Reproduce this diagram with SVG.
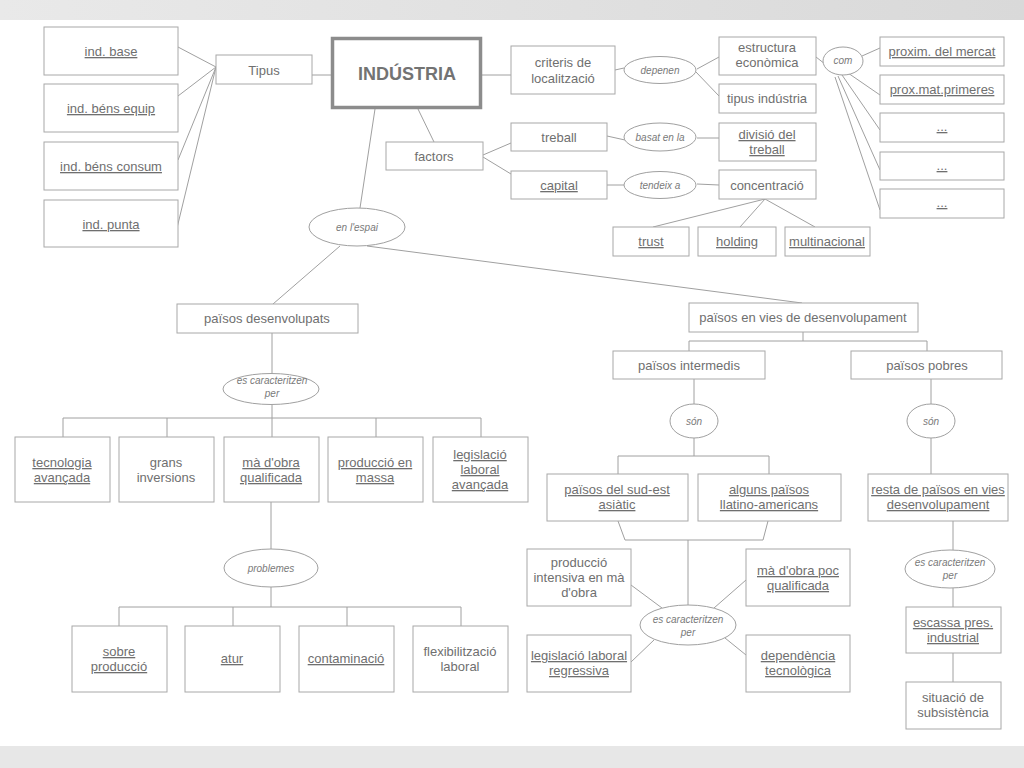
<svg xmlns="http://www.w3.org/2000/svg" width="1024" height="768" viewBox="0 0 1024 768">
<defs>
<linearGradient id="band" x1="0" y1="0" x2="1" y2="0">
<stop offset="0" stop-color="#e9e9e9"/>
<stop offset="1" stop-color="#d9d9d9"/>
</linearGradient>
<style>
.b{fill:#fff;stroke:#a8a8a8;stroke-width:1}
.e{fill:#fff;stroke:#a0a0a0;stroke-width:1}
.t{font-family:"Liberation Sans",Arial,sans-serif;font-size:13px;fill:#6f6f6f;text-anchor:middle}
.u{text-decoration:underline}
.i{font-family:"Liberation Sans",Arial,sans-serif;font-size:10px;font-style:italic;fill:#7a7a7a;text-anchor:middle}
.c line,.c polyline{stroke:#a0a0a0;stroke-width:1;fill:none}
</style>
</defs>
<rect x="0" y="0" width="1024" height="768" fill="#fff"/>
<rect x="0" y="0" width="1024" height="20" fill="url(#band)"/>
<rect x="0" y="746" width="1024" height="22" fill="#e7e7e7"/>

<g id="connectors" class="c">
<line x1="216" y1="67" x2="178" y2="47"/>
<line x1="216" y1="67" x2="178" y2="96"/>
<line x1="216" y1="67" x2="178" y2="160"/>
<line x1="216" y1="67" x2="177" y2="228"/>
<line x1="312" y1="75" x2="331" y2="75"/>
<line x1="418" y1="109" x2="434" y2="142"/>
<line x1="375" y1="109" x2="360" y2="208"/>
<line x1="482" y1="75" x2="511" y2="75"/>
<line x1="615" y1="70" x2="624" y2="68"/>
<line x1="697" y1="69" x2="719" y2="57"/>
<line x1="696" y1="72" x2="719" y2="96"/>
<line x1="816" y1="57" x2="825" y2="64"/>
<line x1="862" y1="56" x2="880" y2="48"/>
<line x1="848" y1="73" x2="880" y2="95"/>
<line x1="842" y1="75" x2="880" y2="130"/>
<line x1="838" y1="76" x2="880" y2="170"/>
<line x1="835" y1="77" x2="880" y2="210"/>
<line x1="483" y1="155" x2="511" y2="143"/>
<line x1="483" y1="157" x2="511" y2="174"/>
<line x1="607" y1="136" x2="625" y2="140"/>
<line x1="697" y1="138" x2="719" y2="138"/>
<line x1="607" y1="185" x2="624" y2="185"/>
<line x1="697" y1="184" x2="719" y2="185"/>
<line x1="765" y1="199" x2="653" y2="227"/>
<line x1="765" y1="199" x2="740" y2="227"/>
<line x1="765" y1="199" x2="815" y2="227"/>
<line x1="340" y1="246" x2="273" y2="304"/>
<line x1="367" y1="246" x2="802" y2="303"/>
<line x1="272" y1="333" x2="272" y2="374"/>
<line x1="272" y1="405" x2="272" y2="418"/>
<polyline points="63,437 63,418 481,418 481,437"/>
<line x1="167" y1="418" x2="167" y2="437"/>
<line x1="376" y1="418" x2="376" y2="437"/>
<line x1="272" y1="418" x2="272" y2="437"/>
<line x1="271" y1="502" x2="271" y2="549"/>
<line x1="271" y1="587" x2="271" y2="607"/>
<polyline points="119,626 119,607 461,607 461,626"/>
<line x1="233" y1="607" x2="233" y2="626"/>
<line x1="347" y1="607" x2="347" y2="626"/>
<line x1="803" y1="332" x2="803" y2="341"/>
<polyline points="689,351 689,341 927,341 927,351"/>
<line x1="694" y1="379" x2="694" y2="404"/>
<line x1="694" y1="438" x2="694" y2="456"/>
<polyline points="618,474 618,456 769,456 769,474"/>
<line x1="931" y1="379" x2="931" y2="404"/>
<line x1="931" y1="438" x2="931" y2="474"/>
<polyline points="618,521 625,540 763,540 768,521"/>
<line x1="688" y1="540" x2="688" y2="605"/>
<line x1="631" y1="585" x2="662" y2="608"/>
<line x1="746" y1="580" x2="714" y2="608"/>
<line x1="631" y1="662" x2="654" y2="640"/>
<line x1="746" y1="655" x2="725" y2="638"/>
<line x1="953" y1="521" x2="953" y2="550"/>
<line x1="953" y1="588" x2="953" y2="607"/>
<line x1="953" y1="653" x2="953" y2="682"/>
</g>

<g id="ind-base"><rect class="b" x="44" y="27" width="134" height="48"/><text class="t u" x="111" y="56">ind. base</text></g>
<g id="ind-bens-equip"><rect class="b" x="44" y="84" width="134" height="48"/><text class="t u" x="111" y="113">ind. béns equip</text></g>
<g id="ind-bens-consum"><rect class="b" x="44" y="142" width="134" height="48"/><text class="t u" x="111" y="171">ind. béns consum</text></g>
<g id="ind-punta"><rect class="b" x="44" y="200" width="134" height="47"/><text class="t u" x="111" y="229">ind. punta</text></g>
<g id="tipus"><rect class="b" x="216" y="55" width="96" height="29"/><text class="t" x="264" y="75">Tipus</text></g>
<g id="industria"><rect x="332.5" y="38.5" width="148" height="69" fill="#fff" stroke="#8c8c8c" stroke-width="3.5"/><text x="407" y="80" font-family="Liberation Sans,Arial,sans-serif" font-size="18" font-weight="bold" fill="#737373" text-anchor="middle">INDÚSTRIA</text></g>
<g id="factors"><rect class="b" x="386" y="142" width="97" height="28"/><text class="t" x="434" y="161">factors</text></g>
<g id="en-lespai"><ellipse class="e" cx="357" cy="227" rx="48" ry="19"/><text class="i" x="357" y="231">en l'espai</text></g>

<g id="criteris"><rect class="b" x="511" y="46" width="104" height="48"/><text class="t" x="563" y="67">criteris de</text><text class="t" x="563" y="83">localització</text></g>
<g id="depenen"><ellipse class="e" cx="660" cy="70" rx="36" ry="13.5"/><text class="i" x="660" y="74">depenen</text></g>
<g id="estructura"><rect class="b" x="719" y="37" width="97" height="38"/><text class="t" x="767" y="52">estructura</text><text class="t" x="767" y="67">econòmica</text></g>
<g id="tipus-industria"><rect class="b" x="719" y="84" width="97" height="29"/><text class="t" x="767" y="103">tipus indústria</text></g>
<g id="com"><ellipse class="e" cx="843" cy="61" rx="20" ry="14"/><text class="i" x="843" y="64">com</text></g>
<g id="proxim-mercat"><rect class="b" x="880" y="37" width="124" height="29"/><text class="t u" x="942" y="56">proxim. del mercat</text></g>
<g id="prox-mat"><rect class="b" x="880" y="75" width="124" height="29"/><text class="t u" x="942" y="94">prox.mat.primeres</text></g>
<g id="etc1"><rect class="b" x="880" y="113" width="124" height="29"/><text class="t u" x="942" y="131" font-size="9">...</text></g>
<g id="etc2"><rect class="b" x="880" y="152" width="124" height="28"/><text class="t u" x="942" y="170" font-size="9">...</text></g>
<g id="etc3"><rect class="b" x="880" y="189" width="124" height="29"/><text class="t u" x="942" y="207" font-size="9">...</text></g>
<g id="treball"><rect class="b" x="511" y="123" width="96" height="28"/><text class="t" x="559" y="142">treball</text></g>
<g id="basat"><ellipse class="e" cx="660" cy="137" rx="36" ry="14"/><text class="i" x="660" y="141">basat en la</text></g>
<g id="divisio"><rect class="b" x="719" y="123" width="97" height="38"/><text class="t u" x="767" y="139">divisió del</text><text class="t u" x="767" y="154">treball</text></g>
<g id="capital"><rect class="b" x="511" y="171" width="96" height="28"/><text class="t u" x="559" y="190">capital</text></g>
<g id="tendeix"><ellipse class="e" cx="660" cy="185" rx="36" ry="13.5"/><text class="i" x="660" y="189">tendeix a</text></g>
<g id="concentracio"><rect class="b" x="719" y="170" width="97" height="29"/><text class="t" x="767" y="190">concentració</text></g>
<g id="trust"><rect class="b" x="613" y="227" width="76" height="29"/><text class="t u" x="651" y="246">trust</text></g>
<g id="holding"><rect class="b" x="698" y="227" width="78" height="29"/><text class="t u" x="737" y="246">holding</text></g>
<g id="multinacional"><rect class="b" x="785" y="227" width="85" height="29"/><text class="t u" x="827" y="246">multinacional</text></g>

<g id="paisos-desenvolupats"><rect class="b" x="177" y="304" width="181" height="29"/><text class="t" x="267" y="323">països desenvolupats</text></g>
<g id="es-car-1"><ellipse class="e" cx="271" cy="389" rx="48" ry="15.5"/><text class="i" x="272" y="384">es caracteritzen</text><text class="i" x="272" y="397">per</text></g>
<g id="tecnologia"><rect class="b" x="15" y="437" width="95" height="65"/><text class="t u" x="62" y="467">tecnologia</text><text class="t u" x="62" y="482">avançada</text></g>
<g id="grans"><rect class="b" x="119" y="437" width="95" height="65"/><text class="t" x="166" y="467">grans</text><text class="t" x="166" y="482">inversions</text></g>
<g id="ma-obra-q"><rect class="b" x="224" y="437" width="95" height="65"/><text class="t u" x="271" y="467">mà d'obra</text><text class="t u" x="271" y="482">qualificada</text></g>
<g id="produccio-massa"><rect class="b" x="328" y="437" width="95" height="65"/><text class="t u" x="375" y="467">producció en</text><text class="t u" x="375" y="482">massa</text></g>
<g id="legislacio-av"><rect class="b" x="433" y="437" width="95" height="65"/><text class="t u" x="480" y="459">legislació</text><text class="t u" x="480" y="474">laboral</text><text class="t u" x="480" y="489">avançada</text></g>
<g id="problemes"><ellipse class="e" cx="271" cy="568" rx="47" ry="19"/><text class="i" x="271" y="572">problemes</text></g>
<g id="sobre-produccio"><rect class="b" x="72" y="626" width="95" height="66"/><text class="t u" x="119" y="656">sobre</text><text class="t u" x="119" y="671">producció</text></g>
<g id="atur"><rect class="b" x="185" y="626" width="95" height="66"/><text class="t u" x="232" y="663">atur</text></g>
<g id="contaminacio"><rect class="b" x="299" y="626" width="95" height="66"/><text class="t u" x="346" y="663">contaminació</text></g>
<g id="flexibilitzacio"><rect class="b" x="413" y="626" width="95" height="66"/><text class="t" x="460" y="656">flexibilització</text><text class="t" x="460" y="671">laboral</text></g>

<g id="paisos-vies"><rect class="b" x="689" y="303" width="229" height="29"/><text class="t" x="803" y="322">països en vies de desenvolupament</text></g>
<g id="paisos-intermedis"><rect class="b" x="613" y="351" width="152" height="28"/><text class="t" x="689" y="370">països intermedis</text></g>
<g id="paisos-pobres"><rect class="b" x="851" y="351" width="151" height="28"/><text class="t" x="927" y="370">països pobres</text></g>
<g id="son-1"><ellipse class="e" cx="694" cy="421" rx="24" ry="17"/><text class="i" x="694" y="425">són</text></g>
<g id="son-2"><ellipse class="e" cx="931" cy="421" rx="24" ry="17"/><text class="i" x="931" y="425">són</text></g>
<g id="sud-est"><rect class="b" x="547" y="474" width="141" height="47"/><text class="t u" x="617" y="494">països del sud-est</text><text class="t u" x="617" y="509">asiàtic</text></g>
<g id="llatino"><rect class="b" x="698" y="474" width="143" height="47"/><text class="t u" x="769" y="494">alguns països</text><text class="t u" x="769" y="509">llatino-americans</text></g>
<g id="resta"><rect class="b" x="868" y="474" width="140" height="47"/><text class="t u" x="938" y="494">resta de països en vies</text><text class="t u" x="938" y="509">desenvolupament</text></g>
<g id="produccio-intensiva"><rect class="b" x="527" y="549" width="104" height="57"/><text class="t" x="579" y="567">producció</text><text class="t" x="579" y="582">intensiva en mà</text><text class="t" x="579" y="597">d'obra</text></g>
<g id="ma-obra-poc"><rect class="b" x="746" y="549" width="104" height="57"/><text class="t u" x="798" y="575">mà d'obra poc</text><text class="t u" x="798" y="590">qualificada</text></g>
<g id="es-car-2"><ellipse class="e" cx="688" cy="625" rx="48" ry="20"/><text class="i" x="688" y="623">es caracteritzen</text><text class="i" x="688" y="636">per</text></g>
<g id="legislacio-reg"><rect class="b" x="527" y="635" width="104" height="57"/><text class="t u" x="579" y="660">legislació laboral</text><text class="t u" x="579" y="675">regressiva</text></g>
<g id="dependencia"><rect class="b" x="746" y="635" width="104" height="57"/><text class="t u" x="798" y="660">dependència</text><text class="t u" x="798" y="675">tecnològica</text></g>
<g id="es-car-3"><ellipse class="e" cx="950" cy="569" rx="45" ry="19"/><text class="i" x="950" y="566">es caracteritzen</text><text class="i" x="950" y="579">per</text></g>
<g id="escassa"><rect class="b" x="906" y="607" width="95" height="46"/><text class="t u" x="953" y="627">escassa pres.</text><text class="t u" x="953" y="642">industrial</text></g>
<g id="situacio"><rect class="b" x="906" y="682" width="95" height="47"/><text class="t" x="953" y="702">situació de</text><text class="t" x="953" y="717">subsistència</text></g>
</svg>
